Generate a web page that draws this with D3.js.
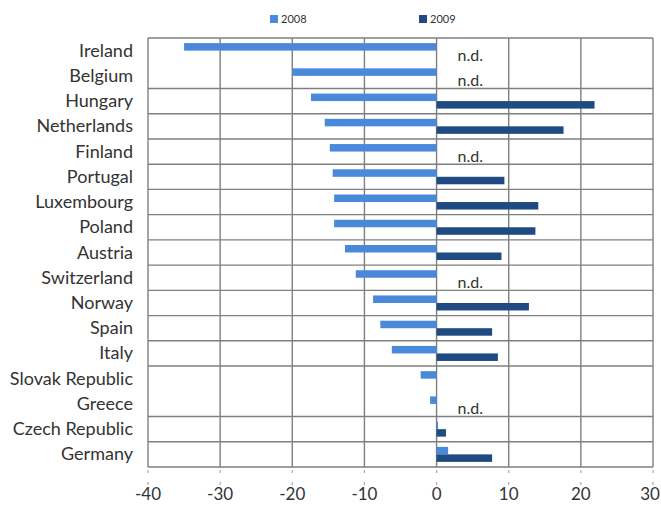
<!DOCTYPE html>
<html>
<head>
<meta charset="utf-8">
<script src="https://cdn.jsdelivr.net/npm/d3@7"></script>
<style>
  html, body { margin: 0; padding: 0; background: #fff; }
  svg { display: block; }
  text { font-family: Lato, "Open Sans", sans-serif; fill: #333; }
</style>
</head>
<body>
<svg id="chart" width="661" height="516"></svg>
<script>
// Countries, top to bottom
const categories = ["Ireland", "Belgium", "Hungary", "Netherlands", "Finland", "Portugal",
  "Luxembourg", "Poland", "Austria", "Switzerland", "Norway", "Spain", "Italy",
  "Slovak Republic", "Greece", "Czech Republic", "Germany"];

// Percentage change; null = no data (n.d.)
const values2008 = [-35, -20, -17.4, -15.5, -14.8, -14.4, -14.2, -14.2, -12.7, -11.2,
  -8.8, -7.8, -6.2, -2.2, -0.9, 0.2, 1.6];
const values2009 = [null, null, 21.9, 17.6, null, 9.4, 14.1, 13.7, 9.0, null,
  12.8, 7.7, 8.5, undefined, null, 1.3, 7.7];

const seriesNames = ["2008", "2009"];
const xTicks = [-40, -30, -20, -10, 0, 10, 20, 30];

const colors = { "2008": "#4a88da", "2009": "#1f4a82" };
const gridColor = "#7f7f7f";

const width = 661;
const svg = d3.select("#chart");
const plotLeft = 148, plotRight = 653, plotTop = 38, plotBottom = 467;

const x = d3.scaleLinear().domain([-40, 30]).range([plotLeft, plotRight]);
const y = d3.scaleBand().domain(categories).range([plotTop, plotBottom]);
const bw = y.bandwidth();
const barH = 7.5;

// Grid: vertical lines at every tick
const grid = svg.append("g");
grid.selectAll("line.v").data(xTicks).join("line")
  .attr("x1", d => x(d)).attr("x2", d => x(d))
  .attr("y1", plotTop).attr("y2", plotBottom)
  .attr("stroke", gridColor).attr("stroke-width", 1.4);

// Horizontal row separators (a couple are absent in this layout)
const skipAfter = new Set(["Ireland", "Slovak Republic"]);
const hLines = [plotTop, plotBottom].concat(
  categories.slice(0, -1).filter(c => !skipAfter.has(c)).map(c => y(c) + bw));
grid.selectAll("line.h").data(hLines).join("line")
  .attr("x1", plotLeft).attr("x2", plotRight)
  .attr("y1", d => d).attr("y2", d => d)
  .attr("stroke", gridColor).attr("stroke-width", 1.4);

// Dotted tick stubs beneath the plot
svg.append("g").selectAll("line").data(xTicks).join("line")
  .attr("x1", d => x(d)).attr("x2", d => x(d))
  .attr("y1", plotBottom + 3).attr("y2", plotBottom + 19)
  .attr("stroke", "#aaa").attr("stroke-width", 1.2)
  .attr("stroke-dasharray", "3,9");

// Bars
const rows = categories.map((c, i) => ({ c, v08: values2008[i], v09: values2009[i] }));
const bars = svg.append("g");
bars.selectAll("rect.b08").data(rows).join("rect")
  .attr("x", d => x(Math.min(0, d.v08)))
  .attr("width", d => Math.abs(x(d.v08) - x(0)))
  .attr("y", d => y(d.c) + bw / 2 - barH)
  .attr("height", barH)
  .attr("fill", colors["2008"]);
bars.selectAll("rect.b09").data(rows.filter(d => d.v09 != null)).join("rect")
  .attr("x", d => x(Math.min(0, d.v09)))
  .attr("width", d => Math.abs(x(d.v09) - x(0)))
  .attr("y", d => y(d.c) + bw / 2)
  .attr("height", barH)
  .attr("fill", colors["2009"]);

// n.d. markers for missing 2009 values
svg.append("g").selectAll("text").data(rows.filter(d => d.v09 === null)).join("text")
  .attr("x", x(0) + 21)
  .attr("y", d => y(d.c) + bw / 2 + 10)
  .attr("font-size", 16)
  .attr("fill", "#222")
  .text("n.d.");

// Category labels
svg.append("g").selectAll("text").data(categories).join("text")
  .attr("x", plotLeft - 15)
  .attr("y", d => y(d) + bw / 2 + 6)
  .attr("text-anchor", "end")
  .attr("font-size", 18)
  .attr("fill", "#222")
  .text(d => d);

// X axis labels; the last one is kept inside the page edge
svg.append("g").selectAll("text").data(xTicks).join("text")
  .attr("x", d => x(d))
  .attr("y", 500)
  .attr("text-anchor", "middle")
  .attr("font-size", 17)
  .attr("fill", "#222")
  .text(d => d)
  .each(function () {
    const b = this.getBBox();
    if (b.x + b.width > width - 1) d3.select(this).attr("x", +d3.select(this).attr("x") - (b.x + b.width - (width - 1)));
  });

// Legend
const legendX = { "2008": 270, "2009": 419 };
const lg = svg.append("g").selectAll("g").data(seriesNames).join("g")
  .attr("transform", d => `translate(${legendX[d]},15)`);
lg.append("rect").attr("width", 8).attr("height", 8).attr("fill", d => colors[d]);
lg.append("text").attr("x", 11).attr("y", 8).attr("font-size", 11).attr("fill", "#333").text(d => d);
</script>
</body>
</html>
